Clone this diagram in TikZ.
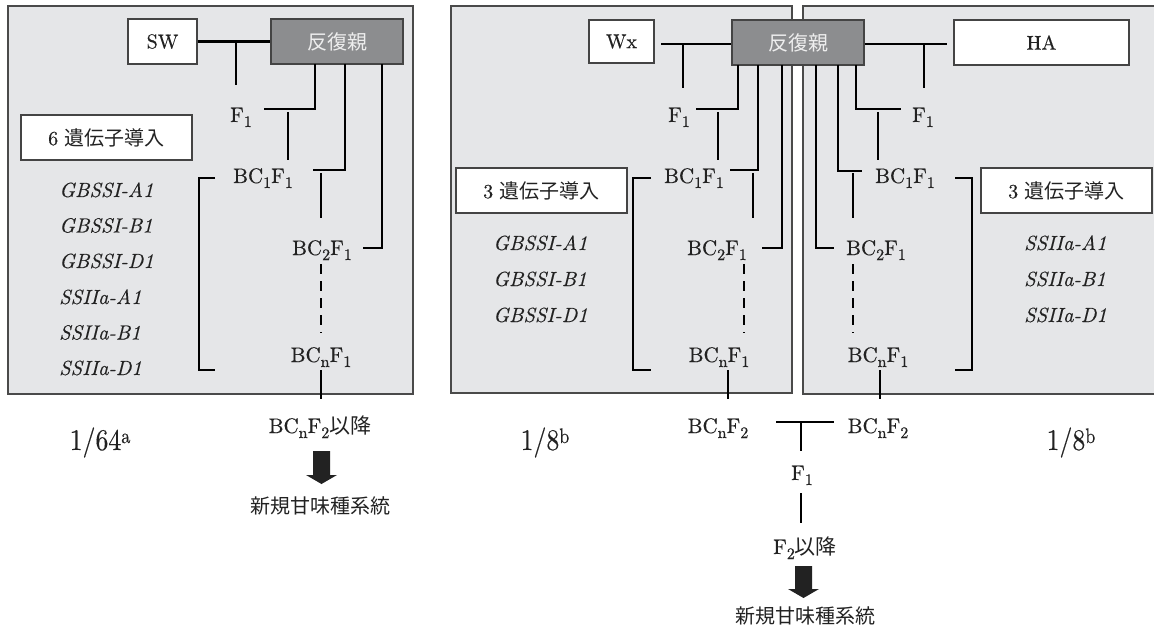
\documentclass[tikz,border=0pt]{standalone}
\usepackage{fontspec}
\setmainfont{lmroman10-regular.otf}[ItalicFont=lmroman10-italic.otf, FakeBold=0.35]
\newfontfamily\cjk{Noto Sans CJK JP}
\definecolor{pfill}{HTML}{E5E6E8}
\definecolor{pborder}{HTML}{4A4A4A}
\definecolor{bborder}{HTML}{444444}
\definecolor{gfill}{HTML}{8C8D8F}
\definecolor{gtext}{HTML}{EEEEEE}
\definecolor{ink}{HTML}{222222}
\definecolor{arrowc}{HTML}{222222}
\tikzset{
  panel/.style={draw=pborder, line width=1.3pt, fill=pfill},
  wbox/.style={draw=bborder, line width=1.3pt, fill=white, inner sep=0pt, text=ink},
  gbox/.style={draw=bborder, line width=1.3pt, fill=gfill, inner sep=0pt, text=gtext,
    font=\fontsize{20}{24}\selectfont\cjk},
  conn/.style={line width=2.9pt, draw=black},
  dconn/.style={conn, dash pattern=on 10pt off 7pt},
  lbl/.style={inner sep=0pt, anchor=base, text=ink, font=\fontsize{21}{24}\selectfont},
  gene/.style={inner sep=0pt, anchor=base west, text=ink, font=\fontsize{20.5}{22}\selectfont\itshape},
  jp/.style={inner sep=0pt, anchor=base, text=ink, font=\fontsize{20}{24}\selectfont\cjk},
  ratio/.style={inner sep=0pt, anchor=base, text=ink},
  blockarrow/.style={fill=arrowc},
}
\newcommand{\sbs}[1]{\raisebox{-5pt}{\fontsize{16}{16}\selectfont #1}}
\newcommand{\ratiotext}[2]{\scalebox{0.86}[1]{\fontsize{30}{32}\selectfont #1\raisebox{7pt}{\fontsize{21}{21}\selectfont #2}}}
\begin{document}
\begin{tikzpicture}[x=1pt,y=-1pt]
\useasboundingbox (0,0) rectangle (1154,631);
% panels
\path[panel] (8,6) rectangle (413,394);
\path[panel] (451,6) rectangle (792,393);
\path[panel] (803,6) rectangle (1165,394);

% ---------- left panel ----------
\node[wbox, minimum width=69pt, minimum height=45pt, font=\fontsize{20}{24}\selectfont] (sw) at (162.5,41.5) {SW};
\node[gbox, minimum width=132pt, minimum height=45pt] (rpL) at (337,41.5) {反復親};
\draw[conn] (sw.east) -- (rpL.west);
\coordinate (jL) at (236,41.5);
\coordinate (jLd) at (236,85);
\draw[conn] (jL) -- (jLd);
\node[lbl] (f1L) at (241,122) {F\sbs{1}};
\node[lbl] (bc1L) at (263,183) {BC\sbs{1}F\sbs{1}};
\node[lbl] (bc2L) at (322,255) {BC\sbs{2}F\sbs{1}};
\node[lbl] (bcnL) at (321,362) {BC\sbs{n}F\sbs{1}};
\draw[conn] (315,64) |- (264,109);
\draw[conn] (288,112) -- (288,160);
\draw[conn] (345,64) |- (313,170);
\draw[conn] (321,173) -- (321,218);
\draw[conn] (382,64) |- (363,248);
\draw[dconn] (321,264) -- (321,333);
\draw[conn] (321,370) -- (321,399);
\draw[conn] (215,178) -- (199,178) -- (199,370) -- (215,370);
\node[wbox, minimum width=171pt, minimum height=45pt, font=\fontsize{20}{24}\selectfont] (g6) at (106.5,137.5) {6 {\cjk 遺伝子導入}};
\node[gene] (l1) at (59,197) {GBSSI-A1};
\node[gene] (l2) at (59,232.5) {GBSSI-B1};
\node[gene] (l3) at (59,268) {GBSSI-D1};
\node[gene] (l4) at (59,304) {SSIIa-A1};
\node[gene] (l5) at (59,339.5) {SSIIa-B1};
\node[gene] (l6) at (59,375) {SSIIa-D1};

% ---------- middle panel ----------
\node[wbox, minimum width=65pt, minimum height=43pt, font=\fontsize{20}{24}\selectfont] (wx) at (621.5,41.5) {Wx};
\node[gbox, minimum width=132pt, minimum height=45pt] (rpM) at (798,42.5) {反復親};
\coordinate (wxs) at (661,44);
\draw[conn] (wxs) -- (rpM.west |- wxs);
\draw[conn] (683,44) -- (683,88);
\node[lbl] (f1M) at (679,122) {F\sbs{1}};
\node[lbl] (bc1M) at (694,183) {BC\sbs{1}F\sbs{1}};
\node[lbl] (bc2M) at (717,255) {BC\sbs{2}F\sbs{1}};
\node[lbl] (bcnM) at (719,362) {BC\sbs{n}F\sbs{1}};
\draw[conn] (738,65) |- (696,109);
\draw[conn] (718,112) -- (718,160);
\draw[conn] (758,65) |- (730,170);
\draw[conn] (753,173) -- (753,218);
\draw[conn] (782,65) |- (762,248);
\draw[dconn] (744,264) -- (744,333);
\draw[conn] (728,370) -- (728,399);
\draw[conn] (651,178) -- (633,178) -- (633,370) -- (651,370);
\node[wbox, minimum width=171pt, minimum height=45pt, font=\fontsize{20}{24}\selectfont] (g3M) at (541.5,190.5) {3 {\cjk 遺伝子導入}};
\node[gene] (m1) at (493,250) {GBSSI-A1};
\node[gene] (m2) at (493,286) {GBSSI-B1};
\node[gene] (m3) at (493,322) {GBSSI-D1};

% ---------- right panel ----------
\node[wbox, minimum width=175pt, minimum height=45pt, font=\fontsize{20}{24}\selectfont] (ha) at (1041.5,42.5) {HA};
\coordinate (has) at (947,44);
\draw[conn] (rpM.east |- has) -- (has);
\draw[conn] (924,44) -- (924,88);
\node[lbl] (f1R) at (923,122) {F\sbs{1}};
\node[lbl] (bc1R) at (905,183) {BC\sbs{1}F\sbs{1}};
\node[lbl] (bc2R) at (876,255) {BC\sbs{2}F\sbs{1}};
\node[lbl] (bcnR) at (878,362) {BC\sbs{n}F\sbs{1}};
\draw[conn] (856,65) |- (901,109);
\draw[conn] (878,112) -- (878,160);
\draw[conn] (838,65) |- (862,171);
\draw[conn] (853,173) -- (853,218);
\draw[conn] (816,65) |- (834,248);
\draw[dconn] (853,264) -- (853,333);
\draw[conn] (880,370) -- (880,399);
\draw[conn] (955,178) -- (972,178) -- (972,370) -- (955,370);
\node[wbox, minimum width=171pt, minimum height=45pt, font=\fontsize{20}{24}\selectfont] (g3R) at (1066.5,190.5) {3 {\cjk 遺伝子導入}};
\node[gene] (r1) at (1024,250) {SSIIa-A1};
\node[gene] (r2) at (1024,286) {SSIIa-B1};
\node[gene] (r3) at (1024,322) {SSIIa-D1};

% ---------- bottom ----------
\node[ratio] (ra) at (100,450) {\ratiotext{1/64}{a}};
\node[ratio] (rb) at (545,450) {\ratiotext{1/8}{b}};
\node[ratio] (rc) at (1071,450) {\ratiotext{1/8}{b}};

\node[lbl] (bcnf2L) at (320,433) {BC\sbs{n}F\sbs{2}{\cjk 以降}};
\fill[blockarrow] (313,451) -- (330,451) -- (330,475) -- (337,475) -- (321.5,484) -- (306,475) -- (313,475) -- cycle;
\node[jp] (newL) at (320,513) {新規甘味種系統};

\node[lbl] (bcnf2M) at (718,433) {BC\sbs{n}F\sbs{2}};
\node[lbl] (bcnf2R) at (878,433) {BC\sbs{n}F\sbs{2}};
\coordinate (tl) at (776,422);
\coordinate (tr) at (834,422);
\coordinate (tm) at (801,422);
\coordinate (tmd) at (801,451);
\draw[conn] (tl) -- (tr);
\draw[conn] (tm) -- (tmd);
\node[lbl] (f1B) at (802,480) {F\sbs{1}};
\draw[conn] (801,493) -- (801,523);
\node[lbl] (f2B) at (805,554) {F\sbs{2}{\cjk 以降}};
\fill[blockarrow] (795,566) -- (812,566) -- (812,589) -- (819,589) -- (803.5,598) -- (788,589) -- (795,589) -- cycle;
\node[jp] (newB) at (805,623) {新規甘味種系統};
\end{tikzpicture}
\end{document}
